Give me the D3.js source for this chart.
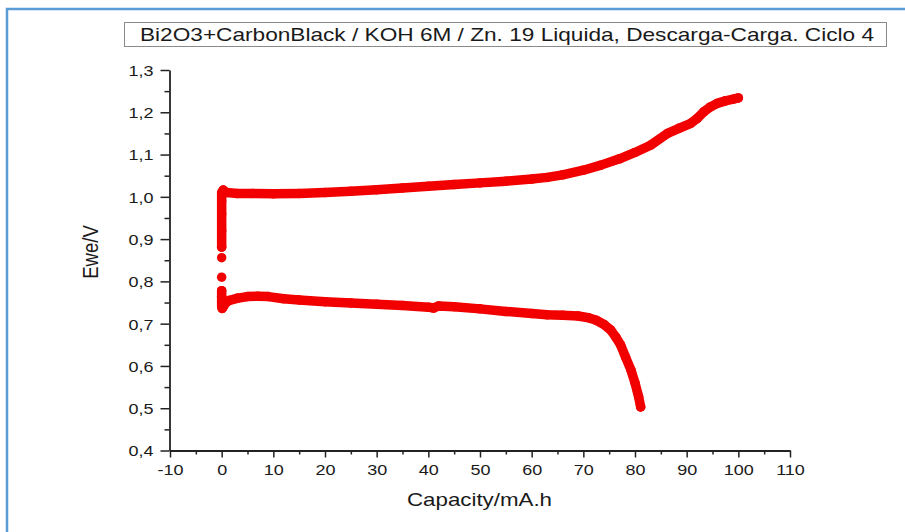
<!DOCTYPE html>
<html>
<head>
<meta charset="utf-8">
<script src="https://cdn.jsdelivr.net/npm/d3@7/dist/d3.min.js"></script>
<style>
  html, body { margin: 0; padding: 0; background: #fff; }
  svg { display: block; }
  text { font-family: Arial, "Liberation Sans", sans-serif; fill: #1a1a1a; }
</style>
</head>
<body>
<svg id="chart" width="905" height="532"></svg>
<script>
// Discharge branch (capacity in mA.h, potential in V)
const dischargeCap = [0, 0, 0, 0, 0.1, 0.3, 0.8, 1.5, 3, 5, 7, 9, 12, 15, 20, 25, 30, 35, 40, 41, 42, 45, 50, 55, 60, 63, 66, 69, 71, 72.5, 74, 75.3, 76.3, 77.2, 78.2, 79.2, 80, 80.7, 81.1];
const dischargeV   = [0.778, 0.765, 0.752, 0.742, 0.736, 0.740, 0.749, 0.755, 0.760, 0.764, 0.765, 0.764, 0.759, 0.756, 0.752, 0.749, 0.746, 0.743, 0.739, 0.737, 0.742, 0.740, 0.735, 0.729, 0.724, 0.721, 0.720, 0.718, 0.714, 0.708, 0.698, 0.685, 0.668, 0.650, 0.620, 0.591, 0.560, 0.527, 0.503];

// First sparse points of the charge branch
const chargeStartCap = [0, 0];
const chargeStartV   = [0.810, 0.856];

// Charge branch
const chargeCap = [0, 0, 0, 0, 0, 0.3, 1, 3, 6, 10, 15, 20, 25, 30, 35, 40, 45, 50, 55, 60, 63, 66, 70, 73.4, 77, 80, 83, 86.3, 88.5, 90.8, 92, 93.3, 94.5, 95.9, 97.5, 99, 100];
const chargeV   = [0.881, 0.920, 0.960, 0.990, 1.010, 1.016, 1.010, 1.008, 1.008, 1.007, 1.008, 1.010, 1.013, 1.017, 1.021, 1.025, 1.029, 1.033, 1.037, 1.042, 1.046, 1.052, 1.063, 1.075, 1.090, 1.105, 1.122, 1.150, 1.162, 1.174, 1.185, 1.201, 1.212, 1.221, 1.227, 1.231, 1.234];

// Axis ticks
const xMajorTicks = [-10, 0, 10, 20, 30, 40, 50, 60, 70, 80, 90, 100, 110];
const xMinorTicks = [-5, 5, 15, 25, 35, 45, 55, 65, 75, 85, 95, 105];
const yMajorTicks = [0.4, 0.5, 0.6, 0.7, 0.8, 0.9, 1.0, 1.1, 1.2, 1.3];
const yMinorTicks = [0.45, 0.55, 0.65, 0.75, 0.85, 0.95, 1.05, 1.15, 1.25];

const titleText = "Bi2O3+CarbonBlack / KOH 6M / Zn. 19 Liquida, Descarga-Carga. Ciclo 4";
const xLabel = "Capacity/mA.h";
const yLabel = "Ewe/V";

const svg = d3.select("#chart");
const W = 905, H = 532;
const stretch = 1.2;   // wide-set lettering
const red = "#f20000";

// Outer blue frame
svg.append("rect")
  .attr("x", 7).attr("y", 9).attr("width", W + 10).attr("height", H + 10)
  .attr("fill", "none").attr("stroke", "#5b9bd5").attr("stroke-width", 2.5);

const x = d3.scaleLinear().domain([-10, 110]).range([170, 790]);
const y = d3.scaleLinear().domain([0.4, 1.3]).range([450.5, 70]);

const comma = d3.formatLocale({ decimal: ",", thousands: ".", grouping: [3], currency: ["", ""], minus: "-" });
const fmtY = comma.format(".1f");
const fmtX = comma.format("d");

// Minor ticks
svg.append("g").attr("transform", "translate(0,450.5)")
  .call(d3.axisBottom(x).tickValues(xMinorTicks).tickSize(4).tickFormat("").tickSizeOuter(0))
  .call(g => g.select(".domain").remove());
svg.append("g").attr("transform", "translate(169.5,0)")
  .call(d3.axisLeft(y).tickValues(yMinorTicks).tickSize(5).tickFormat("").tickSizeOuter(0))
  .call(g => g.select(".domain").remove());

// Major axes
const gx = svg.append("g").attr("transform", "translate(0,450.5)")
  .call(d3.axisBottom(x).tickValues(xMajorTicks).tickSize(7).tickSizeOuter(0).tickFormat(fmtX));
const gy = svg.append("g").attr("transform", "translate(169.5,0)")
  .call(d3.axisLeft(y).tickValues(yMajorTicks).tickSize(9).tickSizeOuter(0).tickFormat(fmtY));

svg.selectAll(".tick line").attr("stroke", "#222").attr("stroke-width", 1.5);
svg.selectAll(".domain").attr("stroke", "#222").attr("stroke-width", 1.8);

gx.selectAll(".tick text")
  .attr("font-size", 15).attr("fill", "#1a1a1a")
  .attr("y", 24.5).attr("dy", 0)
  .attr("transform", `scale(${stretch},1)`);
gy.selectAll(".tick text")
  .attr("font-size", 15).attr("fill", "#1a1a1a")
  .attr("x", -16 / stretch).attr("dy", "0.36em")
  .attr("transform", `scale(${stretch},1)`);
svg.selectAll(".tick text").attr("font-family", "Arial, 'Liberation Sans', sans-serif");

// Data marks
const line = d3.line().x(d => x(d[0])).y(d => y(d[1]));
const discharge = dischargeCap.map((c, i) => [c, dischargeV[i]]);
const charge = chargeCap.map((c, i) => [c, chargeV[i]]);
const chargeStart = chargeStartCap.map((c, i) => [c, chargeStartV[i]]);

[discharge, charge].forEach(series => {
  svg.append("path").datum(series)
    .attr("d", line)
    .attr("fill", "none").attr("stroke", red)
    .attr("stroke-width", 9.5).attr("stroke-linejoin", "round").attr("stroke-linecap", "round");
});
svg.append("g").selectAll("circle")
  .data(discharge.concat(charge, chargeStart))
  .join("circle")
  .attr("cx", d => x(d[0])).attr("cy", d => y(d[1]))
  .attr("r", 4.75).attr("fill", red);

// Title box
svg.append("rect")
  .attr("x", 124.5).attr("y", 22.5).attr("width", 762).attr("height", 24)
  .attr("fill", "#fff").attr("stroke", "#8a8a8a").attr("stroke-width", 1);
svg.append("text")
  .attr("x", 140).attr("y", 40.5)
  .attr("font-size", 18.5)
  .attr("textLength", 734).attr("lengthAdjust", "spacingAndGlyphs")
  .text(titleText);

// Axis titles
svg.append("text")
  .attr("x", 407).attr("y", 505.5)
  .attr("font-size", 18.5)
  .attr("textLength", 145).attr("lengthAdjust", "spacingAndGlyphs")
  .text(xLabel);
svg.append("text")
  .attr("transform", `translate(98,252) rotate(-90) scale(1,${stretch})`)
  .attr("text-anchor", "middle")
  .attr("font-size", 18.5)
  .text(yLabel);
</script>
</body>
</html>
